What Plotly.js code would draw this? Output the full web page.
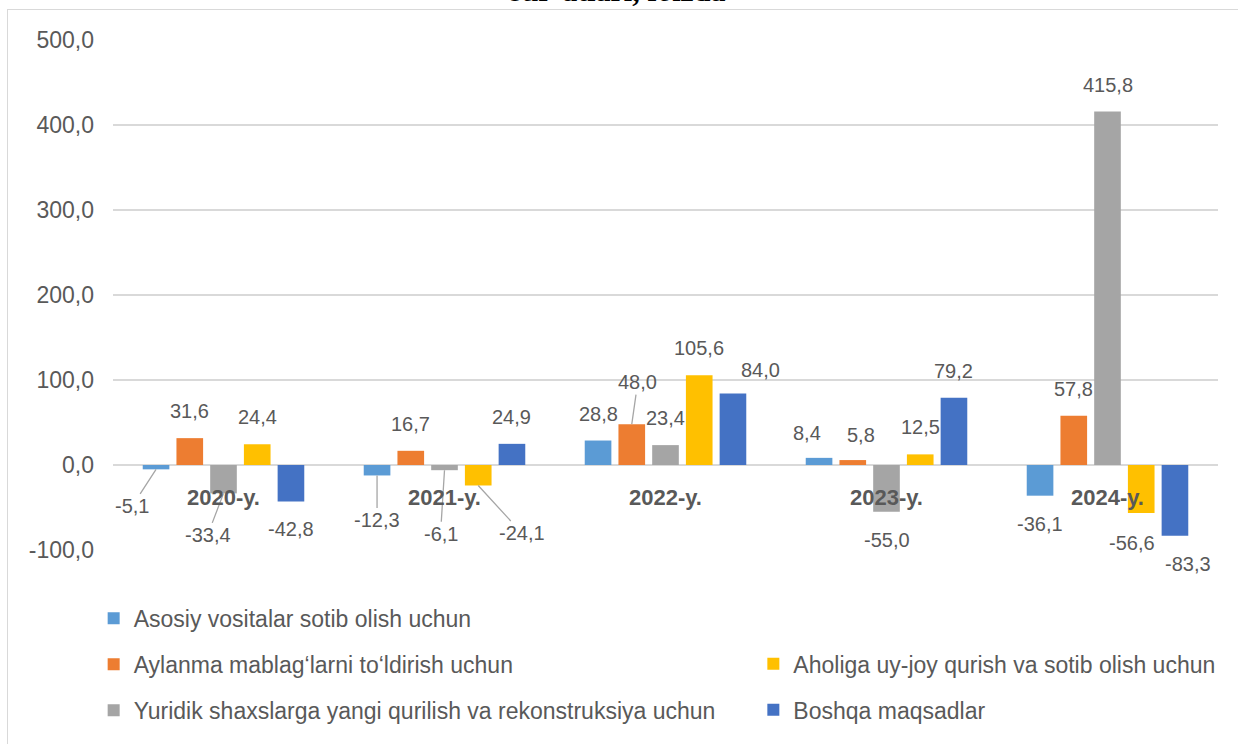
<!DOCTYPE html>
<html>
<head>
<meta charset="utf-8">
<script src="https://cdn.plot.ly/plotly-3.0.1.min.js"></script>
<style>
  html, body { margin: 0; padding: 0; background: #ffffff; overflow: hidden; }
  #wrap { position: relative; width: 1238px; height: 744px; overflow: hidden; }
  #chart { position: absolute; left: 0; top: 0; width: 1238px; height: 744px; }
  #frame { position: absolute; left: 7px; top: 9px; width: 1300px; height: 800px;
           border: 1px solid #d9d9d9; pointer-events: none; }
</style>
</head>
<body>
<div id="wrap">
  <div id="chart"></div>
  <div id="frame"></div>
</div>
<script>
// ---- data ----
const categories = ['2020-y.', '2021-y.', '2022-y.', '2023-y.', '2024-y.'];
const seriesNames = [
  'Asosiy vositalar sotib olish uchun',
  'Aylanma mablag‘larni to‘ldirish uchun',
  'Yuridik shaxslarga yangi qurilish va rekonstruksiya uchun',
  'Aholiga uy-joy qurish va sotib olish uchun',
  'Boshqa maqsadlar'
];
const asosiy  = [-5.1, -12.3, 28.8, 8.4, -36.1];
const aylanma = [31.6, 16.7, 48.0, 5.8, 57.8];
const yuridik = [-33.4, -6.1, 23.4, -55.0, 415.8];
const aholiga = [24.4, -24.1, 105.6, 12.5, -56.6];
const boshqa  = [-42.8, 24.9, 84.0, 79.2, -83.3];
const yTickVals = [-100, 0, 100, 200, 300, 400, 500];
const titleText = 'sur’atlari, foizda';

// ---- styles ----
const seriesValues = [asosiy, aylanma, yuridik, aholiga, boshqa];
const colors = ['#5B9BD5', '#ED7D31', '#A5A5A5', '#FFC000', '#4472C4'];
const legendOf = ['legend', 'legend', 'legend', 'legend2', 'legend2'];
const textColor = '#595959';
const fontFamily = '"Liberation Sans", Arial, sans-serif';
const bargap = 0.237;
const nSeries = seriesValues.length;
const slot = (1 - bargap) / nSeries;

// label placement tweaks (pixel offsets of label centre from bar end): key "series,category"
const labelTweaks = {
  '0,0': {dx: -24, dy: 37, arrow: true},
  '2,0': {dx: -16, dy: 42, arrow: true},
  '0,1': {dx: 0, dy: 45, arrow: true},
  '2,1': {dx: -4, dy: 64, arrow: true},
  '3,1': {dx: 44, dy: 48, arrow: true},
  '1,2': {dx: 6, dy: -42, arrow: true},
  '4,2': {dx: 28, dy: -24},
  '0,3': {dx: -12, dy: -25},
  '1,3': {dx: 8, dy: -25},
  '3,4': {dx: -9, dy: 30},
  '4,4': {dx: 13, dy: 28}
};

const fmt = v => v.toFixed(1).replace('.', ',');

const traces = seriesValues.map((vals, s) => ({
  type: 'bar',
  name: seriesNames[s],
  x: categories,
  y: vals,
  marker: {color: colors[s], line: {width: 0}},
  legend: legendOf[s],
  legendgroup: 'g' + s,
  hoverinfo: 'x+y+name'
}));

const annotations = [];
seriesValues.forEach((vals, s) => {
  vals.forEach((v, c) => {
    const t = labelTweaks[s + ',' + c] || {dx: 0, dy: v >= 0 ? -27 : 28};
    const xpos = c + (s - (nSeries - 1) / 2) * slot;
    const base = {
      x: xpos, y: v, xref: 'x', yref: 'y',
      text: fmt(v),
      font: {family: fontFamily, size: 20, color: textColor}
    };
    if (t.arrow) {
      Object.assign(base, {
        showarrow: true, ax: t.dx, ay: t.dy, axref: 'pixel', ayref: 'pixel',
        arrowhead: 0, arrowwidth: 1.3, arrowcolor: '#a6a6a6', standoff: 0, startstandoff: 0
      });
    } else {
      Object.assign(base, {showarrow: false, xshift: t.dx, yshift: -t.dy});
    }
    annotations.push(base);
  });
});

categories.forEach((cat, c) => {
  annotations.push({
    x: c, y: 0, xref: 'x', yref: 'y', yshift: -32, showarrow: false,
    text: '<b>' + cat + '</b>',
    font: {family: fontFamily, size: 22, color: textColor}
  });
});

annotations.push({
  x: 0.4566, y: 1.0605, xref: 'paper', yref: 'paper', xanchor: 'center', yanchor: 'bottom',
  showarrow: false, text: '<b>' + titleText + '</b>',
  font: {family: '"Liberation Serif", "DejaVu Serif", serif', size: 30, color: '#000000'}
});

const layout = {
  width: 1238, height: 744,
  margin: {l: 113, r: 20, t: 40, b: 189},
  paper_bgcolor: '#ffffff', plot_bgcolor: '#ffffff',
  separators: ', ',
  font: {family: fontFamily, color: textColor},
  barmode: 'group', bargap: bargap, bargroupgap: 0.21,
  showlegend: true,
  xaxis: {
    type: 'category', showticklabels: false, showgrid: false,
    showline: false, zeroline: false, ticks: ''
  },
  yaxis: {
    range: [-100, 500], tickvals: yTickVals, ticktext: yTickVals.map(fmt),
    showgrid: true, gridcolor: '#d9d9d9', gridwidth: 1.5,
    zeroline: true, zerolinecolor: '#d9d9d9', zerolinewidth: 1.5,
    showline: false, ticks: '', ticklabelstandoff: 18,
    tickfont: {family: fontFamily, size: 23, color: textColor}
  },
  legend: {
    x: -0.0175, y: -0.092, xanchor: 'left', yanchor: 'top',
    orientation: 'v', traceorder: 'grouped', tracegroupgap: 13,
    font: {family: fontFamily, size: 23, color: textColor},
    bgcolor: 'rgba(0,0,0,0)'
  },
  legend2: {
    x: 0.5795, y: -0.181, xanchor: 'left', yanchor: 'top',
    orientation: 'v', traceorder: 'grouped', tracegroupgap: 13,
    font: {family: fontFamily, size: 23, color: textColor},
    bgcolor: 'rgba(0,0,0,0)'
  },
  annotations: annotations
};

Plotly.newPlot('chart', traces, layout, {displayModeBar: false, staticPlot: true});
</script>
</body>
</html>
